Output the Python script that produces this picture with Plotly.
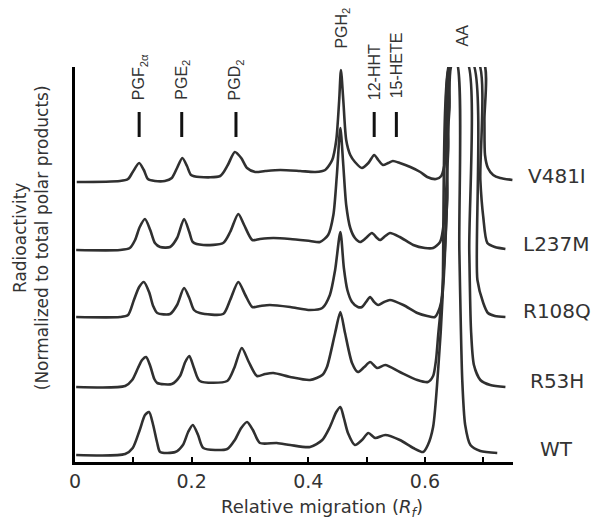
import plotly.graph_objects as go

# ---------------- data ----------------
samples = ["WT", "R53H", "R108Q", "L237M", "V481I"]
baseline_offsets = [7, 75, 145, 212, 280]   # vertical stacking offsets (arbitrary units)

wt_rf = [0.002, 0.086, 0.099, 0.111, 0.120, 0.127, 0.134, 0.141, 0.146, 0.172,
         0.185, 0.194, 0.202, 0.211, 0.220, 0.261, 0.274, 0.285, 0.295, 0.305,
         0.317, 0.346, 0.369, 0.403, 0.424, 0.437, 0.448, 0.455, 0.461, 0.468,
         0.480, 0.492, 0.503, 0.515, 0.532, 0.557, 0.580, 0.597, 0.605, 0.614,
         0.623, 0.630, 0.643, 0.654, 0.659, 0.664, 0.669, 0.678, 0.695, 0.724]
wt_counts = [0, 1, 7, 25, 40, 43, 30, 12, 3, 3,
             10, 23, 30, 20, 7, 6, 15, 27, 33, 25,
             12, 12, 10, 8, 15, 28, 43, 48, 37, 22,
             10, 15, 22, 17, 20, 15, 7, 3, 10, 28,
             88, 155, 393, 393, 205, 75, 30, 10, 4, 2]

r53h_rf = [0.002, 0.086, 0.098, 0.108, 0.115, 0.122, 0.129, 0.136, 0.141, 0.166,
           0.180, 0.189, 0.196, 0.204, 0.214, 0.261, 0.273, 0.286, 0.298, 0.312,
           0.326, 0.340, 0.369, 0.403, 0.424, 0.432, 0.446, 0.455, 0.463, 0.475,
           0.485, 0.496, 0.506, 0.518, 0.532, 0.557, 0.587, 0.605, 0.614, 0.619,
           0.623, 0.630, 0.638, 0.645, 0.672, 0.676, 0.679, 0.684, 0.695, 0.712,
           0.738]
r53h_counts = [0, 1, 7, 19, 27, 30, 21, 8, 4, 3,
               11, 25, 31, 19, 6, 6, 19, 39, 25, 11,
               13, 14, 10, 7, 12, 20, 54, 75, 54, 24,
               15, 20, 25, 19, 22, 15, 7, 5, 11, 27,
               54, 97, 187, 325, 325, 137, 57, 22, 7, 2,
               0]

r108q_rf = [0.002, 0.077, 0.091, 0.101, 0.110, 0.118, 0.127, 0.134, 0.141, 0.163,
            0.175, 0.187, 0.196, 0.204, 0.214, 0.254, 0.266, 0.280, 0.292, 0.304,
            0.317, 0.334, 0.369, 0.403, 0.424, 0.437, 0.446, 0.455, 0.461, 0.467,
            0.475, 0.485, 0.492, 0.499, 0.506, 0.513, 0.520, 0.530, 0.540, 0.563,
            0.587, 0.604, 0.617, 0.624, 0.630, 0.638, 0.645, 0.681, 0.690, 0.700,
            0.708, 0.720, 0.738]
r108q_counts = [0, 0, 2, 17, 30, 35, 25, 11, 4, 3,
                12, 29, 19, 7, 4, 3, 17, 35, 22, 10,
                11, 12, 10, 7, 9, 22, 47, 85, 49, 27,
                15, 10, 10, 15, 20, 15, 12, 15, 17, 12,
                4, 1, 0, 7, 22, 117, 255, 255, 37, 14,
                4, 1, 0]

l237m_rf = [0.002, 0.077, 0.094, 0.103, 0.111, 0.120, 0.129, 0.137, 0.146, 0.163,
            0.175, 0.187, 0.196, 0.202, 0.220, 0.254, 0.266, 0.280, 0.290, 0.304,
            0.317, 0.340, 0.369, 0.403, 0.420, 0.434, 0.443, 0.449, 0.455, 0.460,
            0.465, 0.472, 0.480, 0.489, 0.499, 0.509, 0.518, 0.523, 0.532, 0.540,
            0.557, 0.580, 0.600, 0.614, 0.626, 0.633, 0.640, 0.647, 0.691, 0.695,
            0.700, 0.707, 0.720, 0.738]
l237m_counts = [0, 0, 2, 10, 23, 31, 20, 7, 3, 3,
                12, 31, 18, 8, 5, 7, 18, 36, 25, 10,
                11, 12, 11, 9, 8, 15, 35, 75, 122, 85,
                45, 22, 12, 8, 12, 17, 12, 10, 14, 17,
                13, 5, 2, 2, 8, 30, 100, 188, 188, 70,
                33, 7, 3, 1]

v481i_rf = [0.003, 0.077, 0.091, 0.099, 0.110, 0.118, 0.125, 0.137, 0.154, 0.166,
            0.175, 0.184, 0.192, 0.199, 0.214, 0.249, 0.262, 0.274, 0.285, 0.295,
            0.309, 0.326, 0.352, 0.386, 0.412, 0.429, 0.441, 0.448, 0.453, 0.456,
            0.460, 0.465, 0.472, 0.480, 0.492, 0.503, 0.513, 0.520, 0.528, 0.537,
            0.545, 0.557, 0.575, 0.592, 0.604, 0.619, 0.628, 0.635, 0.642, 0.648,
            0.700, 0.702, 0.703, 0.708, 0.717, 0.729, 0.750]
v481i_counts = [0, 1, 3, 10, 19, 12, 3, 1, 1, 4,
                14, 24, 16, 7, 5, 6, 17, 30, 24, 14,
                10, 11, 12, 11, 10, 12, 22, 42, 82, 112,
                82, 42, 27, 20, 14, 19, 27, 22, 17, 19,
                21, 19, 15, 10, 5, 3, 6, 22, 72, 120,
                120, 62, 27, 14, 7, 4, 2]

trace_rf = [wt_rf, r53h_rf, r108q_rf, l237m_rf, v481i_rf]
trace_counts = [wt_counts, r53h_counts, r108q_counts, l237m_counts, v481i_counts]

peak_names = ["PGF<sub>2α</sub>", "PGE<sub>2</sub>", "PGD<sub>2</sub>", "PGH<sub>2</sub>",
              "12-HHT", "15-HETE", "AA"]
peak_rf = [0.110, 0.183, 0.276, 0.458, 0.513, 0.551, 0.666]
peak_label_base = [360, 360, 360, 411, 360, 362, 414]
marker_rf = [0.110, 0.183, 0.276, 0.513, 0.551]
marker_low = 325
marker_high = 350

x_tick_vals = [0, 0.2, 0.4, 0.6]
x_tick_text = ["0", "0.2", "0.4", "0.6"]
x_minor_vals = [0.1, 0.3, 0.5, 0.7]

X_MAX = 0.751
Y_MAX = 395

LINE = "#303030"
TEXT = "#333333"
FONT = "DejaVu Sans"

fig = go.Figure()

for name, off, rf, cnt in zip(samples, baseline_offsets, trace_rf, trace_counts):
    fig.add_trace(go.Scatter(
        x=rf, y=[c + off for c in cnt], mode="lines", name=name,
        line=dict(color=LINE, width=2.6, shape="spline", smoothing=0.7),
        showlegend=False, hoverinfo="skip"))
    fig.add_annotation(x=1.10, xref="paper", y=off + 6, yref="y", text=name,
                       showarrow=False, xanchor="center", yanchor="middle",
                       font=dict(family=FONT, size=20, color=TEXT))

# marker bars above peaks
mx, my = [], []
for r in marker_rf:
    mx += [r, r, None]
    my += [marker_low, marker_high, None]
fig.add_trace(go.Scatter(x=mx, y=my, mode="lines", line=dict(color="#111", width=3),
                         showlegend=False, hoverinfo="skip"))

for name, r, base in zip(peak_names, peak_rf, peak_label_base):
    fig.add_annotation(x=r, xref="x", y=base / Y_MAX, yref="paper", text=name,
                       showarrow=False, textangle=-90, xanchor="center", yanchor="bottom",
                       font=dict(family="Liberation Sans", size=16, color=TEXT))

fig.add_annotation(x=-0.10, xref="paper", y=0.567, yref="paper",
                   text="Radioactivity<br>(Normalized to total polar products)",
                   showarrow=False, textangle=-90, xanchor="center", yanchor="middle",
                   font=dict(family=FONT, size=17, color=TEXT))
fig.add_annotation(x=0.564, xref="paper", y=-0.116, yref="paper",
                   text="Relative migration (<i>R</i><sub><i>f</i></sub>)",
                   showarrow=False, xanchor="center", yanchor="middle",
                   font=dict(family=FONT, size=18, color=TEXT))

# the page body adds an 8px margin, so the figure is 8px smaller and margins shifted
fig.update_layout(
    width=593, height=522,
    margin=dict(l=67, r=88, t=59, b=68),
    paper_bgcolor="white", plot_bgcolor="white",
    xaxis=dict(range=[0, X_MAX], showline=True, linecolor="black", linewidth=2.5,
               ticks="inside", ticklen=5, tickwidth=2, tickcolor="black",
               tickvals=x_tick_vals, ticktext=x_tick_text,
               minor=dict(ticks="inside", ticklen=5, tickwidth=2, tickcolor="black",
                          tickvals=x_minor_vals, showgrid=False),
               showgrid=False, zeroline=False,
               tickfont=dict(family=FONT, size=19, color=TEXT)),
    yaxis=dict(range=[0, Y_MAX], showline=True, linecolor="black", linewidth=2.5,
               showticklabels=False, ticks="", showgrid=False, zeroline=False),
)

fig.write_html("out.html")
